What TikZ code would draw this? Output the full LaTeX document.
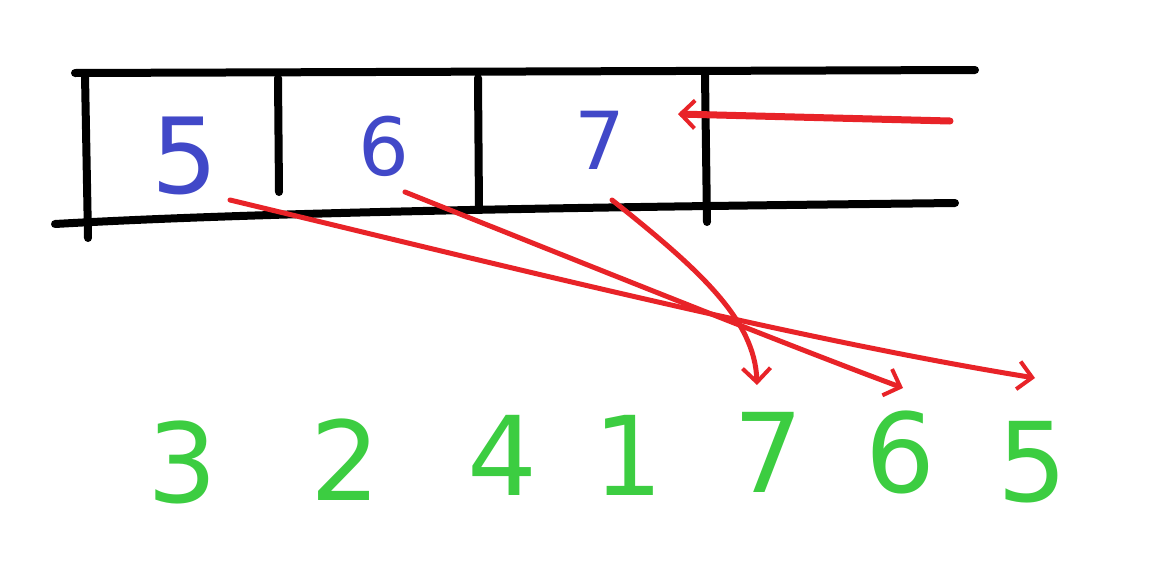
\documentclass[tikz,border=0pt]{standalone}
\usepackage{fontspec}
\setmainfont{DejaVu Sans}
\usetikzlibrary{arrows.meta}
\definecolor{myblue}{RGB}{65,72,200}
\definecolor{mygreen}{RGB}{60,205,65}
\definecolor{myred}{RGB}{232,35,40}
\tikzset{
  bar/.style={line width=8pt,line cap=round,black},
  redarrow/.style={line width=5pt,line cap=round,myred,-{Straight Barb[length=14pt,width=28pt,line width=4pt]}},
  bluedigit/.style={text=myblue,font=\fontsize{105}{105}\selectfont,inner sep=0pt},
  greendigit/.style={text=mygreen,font=\fontsize{110}{110}\selectfont,inner sep=0pt}
}
\begin{document}
\begin{tikzpicture}[x=1pt,y=-1pt]
\useasboundingbox[fill=white] (0,0) rectangle (1160,576);
\draw[bar] (75,73) -- (975,70);
\draw[bar] (55,224) .. controls (300,210) and (700,206) .. (955,203);
\draw[bar] (85,75) -- (88,238);
\draw[bar] (278,78) -- (279,192);
\draw[bar] (478,78) -- (479,210);
\draw[bar] (705,75) -- (707,222);
\node[bluedigit] (b5) at (185,156) {5};
\node[bluedigit,font=\fontsize{80}{80}\selectfont] (b6) at (384,146) {6};
\node[bluedigit,font=\fontsize{80}{80}\selectfont] (b7) at (600,140) {7};
\node[greendigit] (g3) at (182,462) {3};
\node[greendigit] (g2) at (345,460) {2};
\node[greendigit] (g4) at (502,455) {4};
\node[greendigit] (g1) at (628,455) {1};
\node[greendigit] (g7) at (768,452) {7};
\node[greendigit] (g6) at (900,452) {6};
\node[greendigit] (g5) at (1032,462) {5};
\coordinate (rs) at (950,121);
\coordinate (re) at (678,114);
\draw[redarrow,line width=7pt] (rs) -- (re);
\coordinate (s5) at (230,200);
\coordinate (e5) at (1035,378);
\coordinate (s6) at (405,192);
\coordinate (e6) at (903,388);
\coordinate (s7) at (612,200);
\coordinate (e7) at (757,385);
\draw[redarrow] (s5) .. controls (500,265) and (800,340) .. (e5);
\draw[redarrow] (s6) .. controls (600,270) and (800,350) .. (e6);
\draw[redarrow] (s7) .. controls (700,270) and (755,320) .. (e7);
\end{tikzpicture}
\end{document}
